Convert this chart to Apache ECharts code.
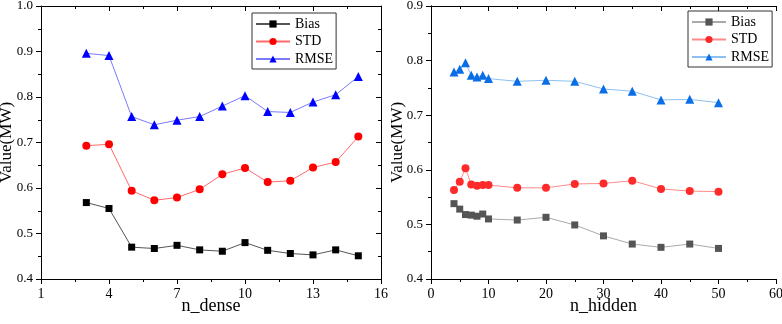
<!DOCTYPE html>
<html>
<head>
<meta charset="utf-8">
<script src="https://cdn.jsdelivr.net/npm/echarts@6/dist/echarts.min.js"></script>
<style>
html,body{margin:0;padding:0;background:#fff;}
#wrap{position:relative;width:782px;height:324px;}
#c1{position:absolute;left:0;top:0;width:391px;height:324px;}
#c2{position:absolute;left:391px;top:0;width:391px;height:324px;}
</style>
</head>
<body>
<div id="wrap"><div id="c1"></div><div id="c2"></div></div>
<script>
// ---- Left panel data (n_dense) ----
const nDense = [3, 4, 5, 6, 7, 8, 9, 10, 11, 12, 13, 14, 15];
const denseBias = [0.568, 0.555, 0.470, 0.467, 0.474, 0.464, 0.461, 0.480, 0.463, 0.456, 0.453, 0.464, 0.451];
const denseSTD  = [0.693, 0.696, 0.594, 0.573, 0.579, 0.597, 0.630, 0.644, 0.613, 0.616, 0.645, 0.657, 0.713];
const denseRMSE = [0.896, 0.891, 0.757, 0.739, 0.749, 0.757, 0.780, 0.803, 0.768, 0.766, 0.789, 0.805, 0.845];
const denseMajorTicks = [1, 4, 7, 10, 13, 16];
const denseMinorTicks = [2.5, 5.5, 8.5, 11.5, 14.5];

// ---- Right panel data (n_hidden) ----
const nHidden = [4, 5, 6, 7, 8, 9, 10, 15, 20, 25, 30, 35, 40, 45, 50];
const hiddenBias = [0.538, 0.528, 0.518, 0.517, 0.515, 0.519, 0.510, 0.508, 0.513, 0.499, 0.479, 0.464, 0.458, 0.464, 0.456];
const hiddenSTD  = [0.563, 0.578, 0.603, 0.573, 0.571, 0.572, 0.572, 0.567, 0.567, 0.574, 0.575, 0.580, 0.565, 0.561, 0.560];
const hiddenRMSE = [0.779, 0.784, 0.796, 0.773, 0.770, 0.773, 0.767, 0.762, 0.764, 0.762, 0.748, 0.744, 0.728, 0.729, 0.723];

const seriesNames = ['Bias', 'STD', 'RMSE'];

const FONT = '"Times New Roman", "Liberation Serif", serif';
const BLACK = '#000';

function pairs(xs, ys) { return xs.map((x, i) => [x, ys[i]]); }

function yAxisPair(min, max, gridIndex, nameGap) {
  return [
    {
      type: 'value', gridIndex: gridIndex, position: 'left', min: min, max: max, interval: 0.1,
      name: 'Value(MW)', nameLocation: 'middle', nameGap: nameGap, nameMoveOverlap: false,
      nameTextStyle: { fontFamily: FONT, fontSize: 17, color: BLACK },
      axisLine: { show: true, lineStyle: { color: BLACK, width: 1 } },
      axisTick: { show: true, inside: false, length: 5, lineStyle: { color: BLACK } },
      minorTick: { show: true, splitNumber: 2, length: 3, lineStyle: { color: BLACK } },
      axisLabel: { fontFamily: FONT, fontSize: 13, color: BLACK, margin: 8, formatter: v => v.toFixed(1) },
      splitLine: { show: false }
    },
    {
      type: 'value', gridIndex: gridIndex, position: 'right', min: min, max: max, interval: 0.1,
      axisLine: { show: true, lineStyle: { color: BLACK, width: 1 } },
      axisTick: { show: true, inside: true, length: 5, lineStyle: { color: BLACK } },
      minorTick: { show: true, splitNumber: 2, length: 3, lineStyle: { color: BLACK } },
      axisLabel: { show: false },
      splitLine: { show: false }
    }
  ];
}

function makeSeries(xs, data, colors, lineColors, symbols, sizes) {
  return seriesNames.map((n, k) => ({
    name: n, type: 'line', xAxisIndex: 0, yAxisIndex: 0,
    data: pairs(xs, data[k]),
    symbol: symbols[k], symbolSize: sizes[k],
    itemStyle: { color: colors[k] },
    lineStyle: { color: lineColors[k], width: 1 },
    emphasis: { disabled: true },
    animation: false
  }));
}

function legendCfg(left, top) {
  return {
    orient: 'vertical', left: left, top: top,
    data: seriesNames,
    itemWidth: 34, itemHeight: 9, itemGap: 3.5,
    padding: [4, 3, 3, 3],
    borderColor: '#333', borderWidth: 1,
    textStyle: { fontFamily: FONT, fontSize: 14, color: BLACK },
    selectedMode: false
  };
}

const gridBase = { top: 6, height: 273, show: false, containLabel: false, outerBoundsMode: 'none' };

// ---------------- Left chart ----------------
const c1 = echarts.init(document.getElementById('c1'), null, { renderer: 'canvas' });
const leftX = (gridIndex, pos, ticks, len, inside, withName, labels) => ({
  type: 'value', gridIndex: gridIndex, position: pos, min: 1, max: 16,
  name: withName ? 'n_dense' : '', nameLocation: 'middle', nameGap: 18, nameMoveOverlap: false,
  nameTextStyle: { fontFamily: FONT, fontSize: 18, color: BLACK },
  axisLine: { show: true, lineStyle: { color: BLACK, width: 1 } },
  axisTick: { show: true, inside: inside, length: len, customValues: ticks, lineStyle: { color: BLACK } },
  axisLabel: labels ? { show: true, customValues: ticks, fontFamily: FONT, fontSize: 14, color: BLACK, margin: 8 } : { show: false },
  splitLine: { show: false }
});
const leftY2 = yAxisPair(0.4, 1.0, 1, 0).map(a => Object.assign({}, a, { show: false, name: '' }));
c1.setOption({
  animation: false,
  grid: [
    Object.assign({ left: 41, width: 340 }, gridBase),
    Object.assign({ left: 41, width: 340 }, gridBase)
  ],
  xAxis: [
    leftX(0, 'bottom', denseMajorTicks, 5, false, true, true),
    leftX(0, 'top', denseMajorTicks, 5, true, false, false),
    leftX(1, 'bottom', denseMinorTicks, 3, false, false, false),
    leftX(1, 'top', denseMinorTicks, 3, true, false, false)
  ],
  yAxis: yAxisPair(0.4, 1.0, 0, 26).concat(leftY2),
  legend: legendCfg(252, 13),
  series: makeSeries(nDense, [denseBias, denseSTD, denseRMSE],
    ['#000000', '#ff0000', '#0000ff'],
    ['#555555', '#ff6a6a', '#7a7aff'],
    ['rect', 'circle', 'triangle'], [7, 8, 9])
});

// ---------------- Right chart ----------------
const c2 = echarts.init(document.getElementById('c2'), null, { renderer: 'canvas' });
const rightX = (pos, inside, withName, labels) => ({
  type: 'value', position: pos, min: 0, max: 60, interval: 10,
  name: withName ? 'n_hidden' : '', nameLocation: 'middle', nameGap: 18, nameMoveOverlap: false,
  nameTextStyle: { fontFamily: FONT, fontSize: 18, color: BLACK },
  axisLine: { show: true, lineStyle: { color: BLACK, width: 1 } },
  axisTick: { show: true, inside: inside, length: 5, lineStyle: { color: BLACK } },
  minorTick: { show: true, splitNumber: 2, length: 3, lineStyle: { color: BLACK } },
  axisLabel: labels ? { show: true, fontFamily: FONT, fontSize: 14, color: BLACK, margin: 8 } : { show: false },
  splitLine: { show: false }
});
c2.setOption({
  animation: false,
  grid: Object.assign({ left: 40, width: 345 }, gridBase),
  xAxis: [rightX('bottom', false, true, true), rightX('top', true, false, false)],
  yAxis: yAxisPair(0.4, 0.9, 0, 25),
  legend: legendCfg(297, 11),
  series: makeSeries(nHidden, [hiddenBias, hiddenSTD, hiddenRMSE],
    ['#555555', '#ff2a2a', '#0a6ee6'],
    ['#aaaaaa', '#ff8a8a', '#8cc0f0'],
    ['rect', 'circle', 'triangle'], [7, 8, 9])
});
</script>
</body>
</html>
